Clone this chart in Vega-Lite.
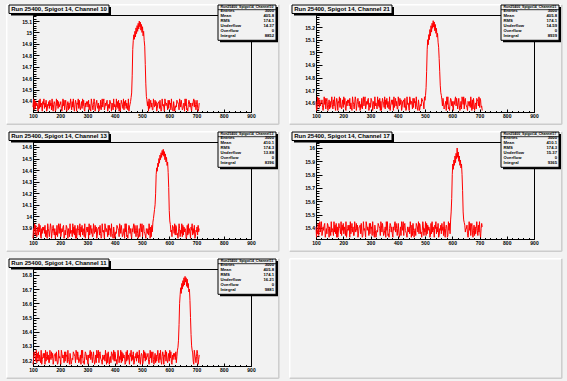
{
"$schema":"https://vega.github.io/schema/vega-lite/v6.json",
"background":"#f2f2f2",
"padding":0,
"autosize":{"type":"pad"},
"bounds":"flush",
"columns":2,
"spacing":{"row":30,"column":65},
"config":{
 "view":{"stroke":"#000000","strokeWidth":1},
 "axis":{"grid":false,"title":null,"domainColor":"#000000","tickColor":"#000000","labelColor":"#000000","labelFont":"Liberation Sans","labelFontWeight":"bold","labelFontSize":5,"labelFlush":false,"labelOverlap":false,"domainWidth":1,"tickWidth":1,"zindex":1},
 "text":{"font":"Liberation Sans","color":"#000000"}
},
"datasets":{
"c10":[{"x":100,"y":14.346},{"x":102,"y":14.418},{"x":104,"y":14.322},{"x":106,"y":14.406},{"x":108,"y":14.334},{"x":110,"y":14.394},{"x":112,"y":14.358},{"x":114,"y":14.382},{"x":116,"y":14.37},{"x":118,"y":14.31},
{"x":120,"y":14.322},{"x":122,"y":14.406},{"x":124,"y":14.334},{"x":126,"y":14.418},{"x":128,"y":14.346},{"x":130,"y":14.382},{"x":132,"y":14.358},{"x":134,"y":14.31},{"x":136,"y":14.394},{"x":138,"y":14.37},
{"x":140,"y":14.418},{"x":142,"y":14.334},{"x":144,"y":14.382},{"x":146,"y":14.346},{"x":148,"y":14.406},{"x":150,"y":14.31},{"x":152,"y":14.322},{"x":154,"y":14.37},{"x":156,"y":14.358},{"x":158,"y":14.394},
{"x":160,"y":14.334},{"x":162,"y":14.406},{"x":164,"y":14.358},{"x":166,"y":14.382},{"x":168,"y":14.322},{"x":170,"y":14.418},{"x":172,"y":14.346},{"x":174,"y":14.31},{"x":176,"y":14.37},{"x":178,"y":14.394},
{"x":180,"y":14.382},{"x":182,"y":14.31},{"x":184,"y":14.322},{"x":186,"y":14.418},{"x":188,"y":14.358},{"x":190,"y":14.406},{"x":192,"y":14.334},{"x":194,"y":14.394},{"x":196,"y":14.346},{"x":198,"y":14.37},
{"x":200,"y":14.37},{"x":202,"y":14.394},{"x":204,"y":14.334},{"x":206,"y":14.31},{"x":208,"y":14.346},{"x":210,"y":14.418},{"x":212,"y":14.358},{"x":214,"y":14.406},{"x":216,"y":14.322},{"x":218,"y":14.382},
{"x":220,"y":14.406},{"x":222,"y":14.346},{"x":224,"y":14.31},{"x":226,"y":14.358},{"x":228,"y":14.394},{"x":230,"y":14.322},{"x":232,"y":14.382},{"x":234,"y":14.334},{"x":236,"y":14.37},{"x":238,"y":14.418},
{"x":240,"y":14.358},{"x":242,"y":14.322},{"x":244,"y":14.394},{"x":246,"y":14.346},{"x":248,"y":14.418},{"x":250,"y":14.334},{"x":252,"y":14.31},{"x":254,"y":14.37},{"x":256,"y":14.406},{"x":258,"y":14.382},
{"x":260,"y":14.31},{"x":262,"y":14.382},{"x":264,"y":14.37},{"x":266,"y":14.418},{"x":268,"y":14.334},{"x":270,"y":14.406},{"x":272,"y":14.346},{"x":274,"y":14.322},{"x":276,"y":14.358},{"x":278,"y":14.394},
{"x":280,"y":14.334},{"x":282,"y":14.418},{"x":284,"y":14.358},{"x":286,"y":14.406},{"x":288,"y":14.322},{"x":290,"y":14.31},{"x":292,"y":14.382},{"x":294,"y":14.346},{"x":296,"y":14.394},{"x":298,"y":14.37},
{"x":300,"y":14.394},{"x":302,"y":14.346},{"x":304,"y":14.406},{"x":306,"y":14.322},{"x":308,"y":14.37},{"x":310,"y":14.334},{"x":312,"y":14.31},{"x":314,"y":14.418},{"x":316,"y":14.382},{"x":318,"y":14.358},
{"x":320,"y":14.322},{"x":322,"y":14.37},{"x":324,"y":14.418},{"x":326,"y":14.394},{"x":328,"y":14.31},{"x":330,"y":14.346},{"x":332,"y":14.382},{"x":334,"y":14.406},{"x":336,"y":14.358},{"x":338,"y":14.334},
{"x":340,"y":14.382},{"x":342,"y":14.31},{"x":344,"y":14.358},{"x":346,"y":14.334},{"x":348,"y":14.406},{"x":350,"y":14.322},{"x":352,"y":14.37},{"x":354,"y":14.418},{"x":356,"y":14.346},{"x":358,"y":14.394},
{"x":360,"y":14.418},{"x":362,"y":14.322},{"x":364,"y":14.346},{"x":366,"y":14.382},{"x":368,"y":14.358},{"x":370,"y":14.394},{"x":372,"y":14.406},{"x":374,"y":14.31},{"x":376,"y":14.334},{"x":378,"y":14.37},
{"x":380,"y":14.334},{"x":382,"y":14.406},{"x":384,"y":14.394},{"x":386,"y":14.37},{"x":388,"y":14.31},{"x":390,"y":14.382},{"x":392,"y":14.358},{"x":394,"y":14.322},{"x":396,"y":14.418},{"x":398,"y":14.346},
{"x":400,"y":14.37},{"x":402,"y":14.358},{"x":404,"y":14.322},{"x":406,"y":14.418},{"x":408,"y":14.346},{"x":410,"y":14.394},{"x":412,"y":14.334},{"x":414,"y":14.406},{"x":416,"y":14.31},{"x":418,"y":14.382},
{"x":420,"y":14.31},{"x":422,"y":14.346},{"x":424,"y":14.406},{"x":426,"y":14.382},{"x":428,"y":14.37},{"x":430,"y":14.334},{"x":432,"y":14.418},{"x":434,"y":14.322},{"x":436,"y":14.394},{"x":438,"y":14.358},
{"x":440,"y":14.406},{"x":442,"y":14.334},{"x":444,"y":14.382},{"x":446,"y":14.358},{"x":448,"y":14.322},{"x":450,"y":14.418},{"x":452,"y":14.31},{"x":454,"y":14.346},{"x":456,"y":14.37},{"x":458,"y":14.394},
{"x":460,"y":14.43},{"x":462,"y":14.47},{"x":464,"y":14.62},{"x":466,"y":14.85},{"x":468,"y":14.93},{"x":470,"y":14.98},{"x":472,"y":14.94},{"x":474,"y":15.01},{"x":476,"y":14.96},{"x":478,"y":15.04},
{"x":480,"y":14.99},{"x":482,"y":15.06},{"x":484,"y":15.01},{"x":486,"y":15.08},{"x":488,"y":15.03},{"x":490,"y":15.1},{"x":492,"y":15.05},{"x":494,"y":15.09},{"x":496,"y":15.02},{"x":498,"y":15.07},
{"x":500,"y":15.0},{"x":502,"y":15.05},{"x":504,"y":14.97},{"x":506,"y":15.01},{"x":508,"y":14.93},{"x":510,"y":14.88},{"x":512,"y":14.72},{"x":514,"y":14.55},{"x":516,"y":14.44},{"x":518,"y":14.41},
{"x":520,"y":14.358},{"x":522,"y":14.394},{"x":524,"y":14.31},{"x":526,"y":14.418},{"x":528,"y":14.334},{"x":530,"y":14.37},{"x":532,"y":14.406},{"x":534,"y":14.346},{"x":536,"y":14.382},{"x":538,"y":14.322},
{"x":540,"y":14.322},{"x":542,"y":14.418},{"x":544,"y":14.37},{"x":546,"y":14.346},{"x":548,"y":14.406},{"x":550,"y":14.358},{"x":552,"y":14.394},{"x":554,"y":14.31},{"x":556,"y":14.334},{"x":558,"y":14.382},
{"x":560,"y":14.382},{"x":562,"y":14.394},{"x":564,"y":14.334},{"x":566,"y":14.406},{"x":568,"y":14.346},{"x":570,"y":14.31},{"x":572,"y":14.322},{"x":574,"y":14.418},{"x":576,"y":14.358},{"x":578,"y":14.37},
{"x":580,"y":14.346},{"x":582,"y":14.31},{"x":584,"y":14.418},{"x":586,"y":14.394},{"x":588,"y":14.358},{"x":590,"y":14.382},{"x":592,"y":14.37},{"x":594,"y":14.322},{"x":596,"y":14.406},{"x":598,"y":14.334},
{"x":600,"y":14.406},{"x":602,"y":14.37},{"x":604,"y":14.382},{"x":606,"y":14.322},{"x":608,"y":14.418},{"x":610,"y":14.346},{"x":612,"y":14.334},{"x":614,"y":14.31},{"x":616,"y":14.394},{"x":618,"y":14.358},
{"x":620,"y":14.31},{"x":622,"y":14.334},{"x":624,"y":14.358},{"x":626,"y":14.346},{"x":628,"y":14.406},{"x":630,"y":14.394},{"x":632,"y":14.382},{"x":634,"y":14.37},{"x":636,"y":14.322},{"x":638,"y":14.418},
{"x":640,"y":14.394},{"x":642,"y":14.346},{"x":644,"y":14.406},{"x":646,"y":14.37},{"x":648,"y":14.322},{"x":650,"y":14.334},{"x":652,"y":14.358},{"x":654,"y":14.382},{"x":656,"y":14.31},{"x":658,"y":14.418},
{"x":660,"y":14.358},{"x":662,"y":14.418},{"x":664,"y":14.322},{"x":666,"y":14.334},{"x":668,"y":14.31},{"x":670,"y":14.37},{"x":672,"y":14.406},{"x":674,"y":14.394},{"x":676,"y":14.346},{"x":678,"y":14.382},
{"x":680,"y":14.334},{"x":682,"y":14.31},{"x":684,"y":14.382},{"x":686,"y":14.358},{"x":688,"y":14.394},{"x":690,"y":14.418},{"x":692,"y":14.346},{"x":694,"y":14.406},{"x":696,"y":14.37},{"x":698,"y":14.322},
{"x":700,"y":14.37},{"x":702,"y":14.406},{"x":704,"y":14.346},{"x":706,"y":14.31},{"x":708,"y":14.334},{"x":710,"y":14.382}],
"c21":[{"x":100,"y":14.612},{"x":102,"y":14.54},{"x":104,"y":14.552},{"x":106,"y":14.648},{"x":108,"y":14.588},{"x":110,"y":14.636},{"x":112,"y":14.564},{"x":114,"y":14.624},{"x":116,"y":14.576},{"x":118,"y":14.6},
{"x":120,"y":14.6},{"x":122,"y":14.624},{"x":124,"y":14.564},{"x":126,"y":14.54},{"x":128,"y":14.576},{"x":130,"y":14.648},{"x":132,"y":14.588},{"x":134,"y":14.636},{"x":136,"y":14.552},{"x":138,"y":14.612},
{"x":140,"y":14.636},{"x":142,"y":14.576},{"x":144,"y":14.54},{"x":146,"y":14.588},{"x":148,"y":14.624},{"x":150,"y":14.552},{"x":152,"y":14.612},{"x":154,"y":14.564},{"x":156,"y":14.6},{"x":158,"y":14.648},
{"x":160,"y":14.588},{"x":162,"y":14.552},{"x":164,"y":14.624},{"x":166,"y":14.576},{"x":168,"y":14.648},{"x":170,"y":14.564},{"x":172,"y":14.54},{"x":174,"y":14.6},{"x":176,"y":14.636},{"x":178,"y":14.612},
{"x":180,"y":14.54},{"x":182,"y":14.612},{"x":184,"y":14.6},{"x":186,"y":14.648},{"x":188,"y":14.564},{"x":190,"y":14.636},{"x":192,"y":14.576},{"x":194,"y":14.552},{"x":196,"y":14.588},{"x":198,"y":14.624},
{"x":200,"y":14.564},{"x":202,"y":14.648},{"x":204,"y":14.588},{"x":206,"y":14.636},{"x":208,"y":14.552},{"x":210,"y":14.54},{"x":212,"y":14.612},{"x":214,"y":14.576},{"x":216,"y":14.624},{"x":218,"y":14.6},
{"x":220,"y":14.624},{"x":222,"y":14.576},{"x":224,"y":14.636},{"x":226,"y":14.552},{"x":228,"y":14.6},{"x":230,"y":14.564},{"x":232,"y":14.54},{"x":234,"y":14.648},{"x":236,"y":14.612},{"x":238,"y":14.588},
{"x":240,"y":14.552},{"x":242,"y":14.6},{"x":244,"y":14.648},{"x":246,"y":14.624},{"x":248,"y":14.54},{"x":250,"y":14.576},{"x":252,"y":14.612},{"x":254,"y":14.636},{"x":256,"y":14.588},{"x":258,"y":14.564},
{"x":260,"y":14.612},{"x":262,"y":14.54},{"x":264,"y":14.588},{"x":266,"y":14.564},{"x":268,"y":14.636},{"x":270,"y":14.552},{"x":272,"y":14.6},{"x":274,"y":14.648},{"x":276,"y":14.576},{"x":278,"y":14.624},
{"x":280,"y":14.648},{"x":282,"y":14.552},{"x":284,"y":14.576},{"x":286,"y":14.612},{"x":288,"y":14.588},{"x":290,"y":14.624},{"x":292,"y":14.636},{"x":294,"y":14.54},{"x":296,"y":14.564},{"x":298,"y":14.6},
{"x":300,"y":14.564},{"x":302,"y":14.636},{"x":304,"y":14.624},{"x":306,"y":14.6},{"x":308,"y":14.54},{"x":310,"y":14.612},{"x":312,"y":14.588},{"x":314,"y":14.552},{"x":316,"y":14.648},{"x":318,"y":14.576},
{"x":320,"y":14.6},{"x":322,"y":14.588},{"x":324,"y":14.552},{"x":326,"y":14.648},{"x":328,"y":14.576},{"x":330,"y":14.624},{"x":332,"y":14.564},{"x":334,"y":14.636},{"x":336,"y":14.54},{"x":338,"y":14.612},
{"x":340,"y":14.54},{"x":342,"y":14.576},{"x":344,"y":14.636},{"x":346,"y":14.612},{"x":348,"y":14.6},{"x":350,"y":14.564},{"x":352,"y":14.648},{"x":354,"y":14.552},{"x":356,"y":14.624},{"x":358,"y":14.588},
{"x":360,"y":14.636},{"x":362,"y":14.564},{"x":364,"y":14.612},{"x":366,"y":14.588},{"x":368,"y":14.552},{"x":370,"y":14.648},{"x":372,"y":14.54},{"x":374,"y":14.576},{"x":376,"y":14.6},{"x":378,"y":14.624},
{"x":380,"y":14.588},{"x":382,"y":14.624},{"x":384,"y":14.54},{"x":386,"y":14.648},{"x":388,"y":14.564},{"x":390,"y":14.6},{"x":392,"y":14.636},{"x":394,"y":14.576},{"x":396,"y":14.612},{"x":398,"y":14.552},
{"x":400,"y":14.552},{"x":402,"y":14.648},{"x":404,"y":14.6},{"x":406,"y":14.576},{"x":408,"y":14.636},{"x":410,"y":14.588},{"x":412,"y":14.624},{"x":414,"y":14.54},{"x":416,"y":14.564},{"x":418,"y":14.612},
{"x":420,"y":14.612},{"x":422,"y":14.624},{"x":424,"y":14.564},{"x":426,"y":14.636},{"x":428,"y":14.576},{"x":430,"y":14.54},{"x":432,"y":14.552},{"x":434,"y":14.648},{"x":436,"y":14.588},{"x":438,"y":14.6},
{"x":440,"y":14.576},{"x":442,"y":14.54},{"x":444,"y":14.648},{"x":446,"y":14.624},{"x":448,"y":14.588},{"x":450,"y":14.612},{"x":452,"y":14.6},{"x":454,"y":14.552},{"x":456,"y":14.636},{"x":458,"y":14.564},
{"x":460,"y":14.636},{"x":462,"y":14.6},{"x":464,"y":14.612},{"x":466,"y":14.552},{"x":468,"y":14.648},{"x":470,"y":14.576},{"x":472,"y":14.564},{"x":474,"y":14.54},{"x":476,"y":14.624},{"x":478,"y":14.588},
{"x":480,"y":14.54},{"x":482,"y":14.564},{"x":484,"y":14.588},{"x":486,"y":14.576},{"x":488,"y":14.636},{"x":490,"y":14.624},{"x":492,"y":14.612},{"x":494,"y":14.6},{"x":496,"y":14.552},{"x":498,"y":14.648},
{"x":500,"y":14.62},{"x":502,"y":14.66},{"x":504,"y":14.72},{"x":506,"y":14.85},{"x":508,"y":15.02},{"x":510,"y":15.1},{"x":512,"y":15.06},{"x":514,"y":15.14},{"x":516,"y":15.1},{"x":518,"y":15.18},
{"x":520,"y":15.13},{"x":522,"y":15.21},{"x":524,"y":15.16},{"x":526,"y":15.23},{"x":528,"y":15.19},{"x":530,"y":15.25},{"x":532,"y":15.2},{"x":534,"y":15.24},{"x":536,"y":15.17},{"x":538,"y":15.22},
{"x":540,"y":15.15},{"x":542,"y":15.19},{"x":544,"y":15.12},{"x":546,"y":15.15},{"x":548,"y":15.08},{"x":550,"y":15.04},{"x":552,"y":14.95},{"x":554,"y":14.85},{"x":556,"y":14.74},{"x":558,"y":14.68},
{"x":560,"y":14.66},{"x":562,"y":14.624},{"x":564,"y":14.576},{"x":566,"y":14.636},{"x":568,"y":14.6},{"x":570,"y":14.552},{"x":572,"y":14.564},{"x":574,"y":14.588},{"x":576,"y":14.612},{"x":578,"y":14.54},
{"x":580,"y":14.648},{"x":582,"y":14.588},{"x":584,"y":14.648},{"x":586,"y":14.552},{"x":588,"y":14.564},{"x":590,"y":14.54},{"x":592,"y":14.6},{"x":594,"y":14.636},{"x":596,"y":14.624},{"x":598,"y":14.576},
{"x":600,"y":14.612},{"x":602,"y":14.564},{"x":604,"y":14.54},{"x":606,"y":14.612},{"x":608,"y":14.588},{"x":610,"y":14.624},{"x":612,"y":14.648},{"x":614,"y":14.576},{"x":616,"y":14.636},{"x":618,"y":14.6},
{"x":620,"y":14.552},{"x":622,"y":14.6},{"x":624,"y":14.636},{"x":626,"y":14.576},{"x":628,"y":14.54},{"x":630,"y":14.564},{"x":632,"y":14.612},{"x":634,"y":14.552},{"x":636,"y":14.648},{"x":638,"y":14.624},
{"x":640,"y":14.588},{"x":642,"y":14.648},{"x":644,"y":14.552},{"x":646,"y":14.624},{"x":648,"y":14.636},{"x":650,"y":14.588},{"x":652,"y":14.576},{"x":654,"y":14.564},{"x":656,"y":14.54},{"x":658,"y":14.612},
{"x":660,"y":14.6},{"x":662,"y":14.576},{"x":664,"y":14.612},{"x":666,"y":14.564},{"x":668,"y":14.648},{"x":670,"y":14.6},{"x":672,"y":14.54},{"x":674,"y":14.624},{"x":676,"y":14.552},{"x":678,"y":14.636},
{"x":680,"y":14.588},{"x":682,"y":14.54},{"x":684,"y":14.588},{"x":686,"y":14.6},{"x":688,"y":14.552},{"x":690,"y":14.636},{"x":692,"y":14.624},{"x":694,"y":14.612},{"x":696,"y":14.576},{"x":698,"y":14.648},
{"x":700,"y":14.564},{"x":702,"y":14.636},{"x":704,"y":14.624},{"x":706,"y":14.564},{"x":708,"y":14.576},{"x":710,"y":14.54}],
"c13":[{"x":100,"y":13.81},{"x":102,"y":13.894},{"x":104,"y":13.88},{"x":106,"y":13.936},{"x":108,"y":13.838},{"x":110,"y":13.922},{"x":112,"y":13.852},{"x":114,"y":13.824},{"x":116,"y":13.866},{"x":118,"y":13.908},
{"x":120,"y":13.838},{"x":122,"y":13.936},{"x":124,"y":13.866},{"x":126,"y":13.922},{"x":128,"y":13.824},{"x":130,"y":13.81},{"x":132,"y":13.894},{"x":134,"y":13.852},{"x":136,"y":13.908},{"x":138,"y":13.88},
{"x":140,"y":13.908},{"x":142,"y":13.852},{"x":144,"y":13.922},{"x":146,"y":13.824},{"x":148,"y":13.88},{"x":150,"y":13.838},{"x":152,"y":13.81},{"x":154,"y":13.936},{"x":156,"y":13.894},{"x":158,"y":13.866},
{"x":160,"y":13.824},{"x":162,"y":13.88},{"x":164,"y":13.936},{"x":166,"y":13.908},{"x":168,"y":13.81},{"x":170,"y":13.852},{"x":172,"y":13.894},{"x":174,"y":13.922},{"x":176,"y":13.866},{"x":178,"y":13.838},
{"x":180,"y":13.894},{"x":182,"y":13.81},{"x":184,"y":13.866},{"x":186,"y":13.838},{"x":188,"y":13.922},{"x":190,"y":13.824},{"x":192,"y":13.88},{"x":194,"y":13.936},{"x":196,"y":13.852},{"x":198,"y":13.908},
{"x":200,"y":13.936},{"x":202,"y":13.824},{"x":204,"y":13.852},{"x":206,"y":13.894},{"x":208,"y":13.866},{"x":210,"y":13.908},{"x":212,"y":13.922},{"x":214,"y":13.81},{"x":216,"y":13.838},{"x":218,"y":13.88},
{"x":220,"y":13.838},{"x":222,"y":13.922},{"x":224,"y":13.908},{"x":226,"y":13.88},{"x":228,"y":13.81},{"x":230,"y":13.894},{"x":232,"y":13.866},{"x":234,"y":13.824},{"x":236,"y":13.936},{"x":238,"y":13.852},
{"x":240,"y":13.88},{"x":242,"y":13.866},{"x":244,"y":13.824},{"x":246,"y":13.936},{"x":248,"y":13.852},{"x":250,"y":13.908},{"x":252,"y":13.838},{"x":254,"y":13.922},{"x":256,"y":13.81},{"x":258,"y":13.894},
{"x":260,"y":13.81},{"x":262,"y":13.852},{"x":264,"y":13.922},{"x":266,"y":13.894},{"x":268,"y":13.88},{"x":270,"y":13.838},{"x":272,"y":13.936},{"x":274,"y":13.824},{"x":276,"y":13.908},{"x":278,"y":13.866},
{"x":280,"y":13.922},{"x":282,"y":13.838},{"x":284,"y":13.894},{"x":286,"y":13.866},{"x":288,"y":13.824},{"x":290,"y":13.936},{"x":292,"y":13.81},{"x":294,"y":13.852},{"x":296,"y":13.88},{"x":298,"y":13.908},
{"x":300,"y":13.866},{"x":302,"y":13.908},{"x":304,"y":13.81},{"x":306,"y":13.936},{"x":308,"y":13.838},{"x":310,"y":13.88},{"x":312,"y":13.922},{"x":314,"y":13.852},{"x":316,"y":13.894},{"x":318,"y":13.824},
{"x":320,"y":13.824},{"x":322,"y":13.936},{"x":324,"y":13.88},{"x":326,"y":13.852},{"x":328,"y":13.922},{"x":330,"y":13.866},{"x":332,"y":13.908},{"x":334,"y":13.81},{"x":336,"y":13.838},{"x":338,"y":13.894},
{"x":340,"y":13.894},{"x":342,"y":13.908},{"x":344,"y":13.838},{"x":346,"y":13.922},{"x":348,"y":13.852},{"x":350,"y":13.81},{"x":352,"y":13.824},{"x":354,"y":13.936},{"x":356,"y":13.866},{"x":358,"y":13.88},
{"x":360,"y":13.852},{"x":362,"y":13.81},{"x":364,"y":13.936},{"x":366,"y":13.908},{"x":368,"y":13.866},{"x":370,"y":13.894},{"x":372,"y":13.88},{"x":374,"y":13.824},{"x":376,"y":13.922},{"x":378,"y":13.838},
{"x":380,"y":13.922},{"x":382,"y":13.88},{"x":384,"y":13.894},{"x":386,"y":13.824},{"x":388,"y":13.936},{"x":390,"y":13.852},{"x":392,"y":13.838},{"x":394,"y":13.81},{"x":396,"y":13.908},{"x":398,"y":13.866},
{"x":400,"y":13.81},{"x":402,"y":13.838},{"x":404,"y":13.866},{"x":406,"y":13.852},{"x":408,"y":13.922},{"x":410,"y":13.908},{"x":412,"y":13.894},{"x":414,"y":13.88},{"x":416,"y":13.824},{"x":418,"y":13.936},
{"x":420,"y":13.908},{"x":422,"y":13.852},{"x":424,"y":13.922},{"x":426,"y":13.88},{"x":428,"y":13.824},{"x":430,"y":13.838},{"x":432,"y":13.866},{"x":434,"y":13.894},{"x":436,"y":13.81},{"x":438,"y":13.936},
{"x":440,"y":13.866},{"x":442,"y":13.936},{"x":444,"y":13.824},{"x":446,"y":13.838},{"x":448,"y":13.81},{"x":450,"y":13.88},{"x":452,"y":13.922},{"x":454,"y":13.908},{"x":456,"y":13.852},{"x":458,"y":13.894},
{"x":460,"y":13.838},{"x":462,"y":13.81},{"x":464,"y":13.894},{"x":466,"y":13.866},{"x":468,"y":13.908},{"x":470,"y":13.936},{"x":472,"y":13.852},{"x":474,"y":13.922},{"x":476,"y":13.88},{"x":478,"y":13.824},
{"x":480,"y":13.88},{"x":482,"y":13.922},{"x":484,"y":13.852},{"x":486,"y":13.81},{"x":488,"y":13.838},{"x":490,"y":13.894},{"x":492,"y":13.824},{"x":494,"y":13.936},{"x":496,"y":13.908},{"x":498,"y":13.866},
{"x":500,"y":13.936},{"x":502,"y":13.824},{"x":504,"y":13.908},{"x":506,"y":13.922},{"x":508,"y":13.866},{"x":510,"y":13.852},{"x":512,"y":13.838},{"x":514,"y":13.81},{"x":516,"y":13.894},{"x":518,"y":13.88},
{"x":520,"y":13.852},{"x":522,"y":13.894},{"x":524,"y":13.838},{"x":526,"y":13.936},{"x":528,"y":13.88},{"x":530,"y":13.81},{"x":532,"y":13.908},{"x":534,"y":13.824},{"x":536,"y":13.922},{"x":538,"y":13.866},
{"x":540,"y":13.95},{"x":542,"y":13.98},{"x":544,"y":14.02},{"x":546,"y":14.06},{"x":548,"y":14.1},{"x":550,"y":14.2},{"x":552,"y":14.36},{"x":554,"y":14.42},{"x":556,"y":14.39},{"x":558,"y":14.46},
{"x":560,"y":14.43},{"x":562,"y":14.5},{"x":564,"y":14.46},{"x":566,"y":14.53},{"x":568,"y":14.49},{"x":570,"y":14.55},{"x":572,"y":14.51},{"x":574,"y":14.57},{"x":576,"y":14.53},{"x":578,"y":14.58},
{"x":580,"y":14.52},{"x":582,"y":14.56},{"x":584,"y":14.49},{"x":586,"y":14.54},{"x":588,"y":14.47},{"x":590,"y":14.51},{"x":592,"y":14.44},{"x":594,"y":14.47},{"x":596,"y":14.38},{"x":598,"y":14.25},
{"x":600,"y":14.05},{"x":602,"y":13.96},{"x":604,"y":13.93},{"x":606,"y":13.866},{"x":608,"y":13.88},{"x":610,"y":13.824},{"x":612,"y":13.922},{"x":614,"y":13.908},{"x":616,"y":13.894},{"x":618,"y":13.852},
{"x":620,"y":13.936},{"x":622,"y":13.838},{"x":624,"y":13.922},{"x":626,"y":13.908},{"x":628,"y":13.838},{"x":630,"y":13.852},{"x":632,"y":13.81},{"x":634,"y":13.866},{"x":636,"y":13.936},{"x":638,"y":13.894},
{"x":640,"y":13.824},{"x":642,"y":13.88},{"x":644,"y":13.852},{"x":646,"y":13.936},{"x":648,"y":13.824},{"x":650,"y":13.922},{"x":652,"y":13.838},{"x":654,"y":13.908},{"x":656,"y":13.866},{"x":658,"y":13.894},
{"x":660,"y":13.88},{"x":662,"y":13.81},{"x":664,"y":13.824},{"x":666,"y":13.922},{"x":668,"y":13.838},{"x":670,"y":13.936},{"x":672,"y":13.852},{"x":674,"y":13.894},{"x":676,"y":13.866},{"x":678,"y":13.81},
{"x":680,"y":13.908},{"x":682,"y":13.88},{"x":684,"y":13.936},{"x":686,"y":13.838},{"x":688,"y":13.894},{"x":690,"y":13.852},{"x":692,"y":13.922},{"x":694,"y":13.81},{"x":696,"y":13.824},{"x":698,"y":13.88},
{"x":700,"y":13.866},{"x":702,"y":13.908},{"x":704,"y":13.838},{"x":706,"y":13.922},{"x":708,"y":13.866},{"x":710,"y":13.894}],
"c17":[{"x":100,"y":15.408},{"x":102,"y":15.33},{"x":104,"y":15.382},{"x":106,"y":15.356},{"x":108,"y":15.434},{"x":110,"y":15.343},{"x":112,"y":15.395},{"x":114,"y":15.447},{"x":116,"y":15.369},{"x":118,"y":15.421},
{"x":120,"y":15.447},{"x":122,"y":15.343},{"x":124,"y":15.369},{"x":126,"y":15.408},{"x":128,"y":15.382},{"x":130,"y":15.421},{"x":132,"y":15.434},{"x":134,"y":15.33},{"x":136,"y":15.356},{"x":138,"y":15.395},
{"x":140,"y":15.356},{"x":142,"y":15.434},{"x":144,"y":15.421},{"x":146,"y":15.395},{"x":148,"y":15.33},{"x":150,"y":15.408},{"x":152,"y":15.382},{"x":154,"y":15.343},{"x":156,"y":15.447},{"x":158,"y":15.369},
{"x":160,"y":15.395},{"x":162,"y":15.382},{"x":164,"y":15.343},{"x":166,"y":15.447},{"x":168,"y":15.369},{"x":170,"y":15.421},{"x":172,"y":15.356},{"x":174,"y":15.434},{"x":176,"y":15.33},{"x":178,"y":15.408},
{"x":180,"y":15.33},{"x":182,"y":15.369},{"x":184,"y":15.434},{"x":186,"y":15.408},{"x":188,"y":15.395},{"x":190,"y":15.356},{"x":192,"y":15.447},{"x":194,"y":15.343},{"x":196,"y":15.421},{"x":198,"y":15.382},
{"x":200,"y":15.434},{"x":202,"y":15.356},{"x":204,"y":15.408},{"x":206,"y":15.382},{"x":208,"y":15.343},{"x":210,"y":15.447},{"x":212,"y":15.33},{"x":214,"y":15.369},{"x":216,"y":15.395},{"x":218,"y":15.421},
{"x":220,"y":15.382},{"x":222,"y":15.421},{"x":224,"y":15.33},{"x":226,"y":15.447},{"x":228,"y":15.356},{"x":230,"y":15.395},{"x":232,"y":15.434},{"x":234,"y":15.369},{"x":236,"y":15.408},{"x":238,"y":15.343},
{"x":240,"y":15.343},{"x":242,"y":15.447},{"x":244,"y":15.395},{"x":246,"y":15.369},{"x":248,"y":15.434},{"x":250,"y":15.382},{"x":252,"y":15.421},{"x":254,"y":15.33},{"x":256,"y":15.356},{"x":258,"y":15.408},
{"x":260,"y":15.408},{"x":262,"y":15.421},{"x":264,"y":15.356},{"x":266,"y":15.434},{"x":268,"y":15.369},{"x":270,"y":15.33},{"x":272,"y":15.343},{"x":274,"y":15.447},{"x":276,"y":15.382},{"x":278,"y":15.395},
{"x":280,"y":15.369},{"x":282,"y":15.33},{"x":284,"y":15.447},{"x":286,"y":15.421},{"x":288,"y":15.382},{"x":290,"y":15.408},{"x":292,"y":15.395},{"x":294,"y":15.343},{"x":296,"y":15.434},{"x":298,"y":15.356},
{"x":300,"y":15.434},{"x":302,"y":15.395},{"x":304,"y":15.408},{"x":306,"y":15.343},{"x":308,"y":15.447},{"x":310,"y":15.369},{"x":312,"y":15.356},{"x":314,"y":15.33},{"x":316,"y":15.421},{"x":318,"y":15.382},
{"x":320,"y":15.33},{"x":322,"y":15.356},{"x":324,"y":15.382},{"x":326,"y":15.369},{"x":328,"y":15.434},{"x":330,"y":15.421},{"x":332,"y":15.408},{"x":334,"y":15.395},{"x":336,"y":15.343},{"x":338,"y":15.447},
{"x":340,"y":15.421},{"x":342,"y":15.369},{"x":344,"y":15.434},{"x":346,"y":15.395},{"x":348,"y":15.343},{"x":350,"y":15.356},{"x":352,"y":15.382},{"x":354,"y":15.408},{"x":356,"y":15.33},{"x":358,"y":15.447},
{"x":360,"y":15.382},{"x":362,"y":15.447},{"x":364,"y":15.343},{"x":366,"y":15.356},{"x":368,"y":15.33},{"x":370,"y":15.395},{"x":372,"y":15.434},{"x":374,"y":15.421},{"x":376,"y":15.369},{"x":378,"y":15.408},
{"x":380,"y":15.356},{"x":382,"y":15.33},{"x":384,"y":15.408},{"x":386,"y":15.382},{"x":388,"y":15.421},{"x":390,"y":15.447},{"x":392,"y":15.369},{"x":394,"y":15.434},{"x":396,"y":15.395},{"x":398,"y":15.343},
{"x":400,"y":15.395},{"x":402,"y":15.434},{"x":404,"y":15.369},{"x":406,"y":15.33},{"x":408,"y":15.356},{"x":410,"y":15.408},{"x":412,"y":15.343},{"x":414,"y":15.447},{"x":416,"y":15.421},{"x":418,"y":15.382},
{"x":420,"y":15.447},{"x":422,"y":15.343},{"x":424,"y":15.421},{"x":426,"y":15.434},{"x":428,"y":15.382},{"x":430,"y":15.369},{"x":432,"y":15.356},{"x":434,"y":15.33},{"x":436,"y":15.408},{"x":438,"y":15.395},
{"x":440,"y":15.369},{"x":442,"y":15.408},{"x":444,"y":15.356},{"x":446,"y":15.447},{"x":448,"y":15.395},{"x":450,"y":15.33},{"x":452,"y":15.421},{"x":454,"y":15.343},{"x":456,"y":15.434},{"x":458,"y":15.382},
{"x":460,"y":15.33},{"x":462,"y":15.382},{"x":464,"y":15.395},{"x":466,"y":15.343},{"x":468,"y":15.434},{"x":470,"y":15.421},{"x":472,"y":15.408},{"x":474,"y":15.369},{"x":476,"y":15.447},{"x":478,"y":15.356},
{"x":480,"y":15.434},{"x":482,"y":15.421},{"x":484,"y":15.356},{"x":486,"y":15.369},{"x":488,"y":15.33},{"x":490,"y":15.382},{"x":492,"y":15.447},{"x":494,"y":15.408},{"x":496,"y":15.343},{"x":498,"y":15.395},
{"x":500,"y":15.369},{"x":502,"y":15.447},{"x":504,"y":15.343},{"x":506,"y":15.434},{"x":508,"y":15.356},{"x":510,"y":15.421},{"x":512,"y":15.382},{"x":514,"y":15.408},{"x":516,"y":15.395},{"x":518,"y":15.33},
{"x":520,"y":15.343},{"x":522,"y":15.434},{"x":524,"y":15.356},{"x":526,"y":15.447},{"x":528,"y":15.369},{"x":530,"y":15.408},{"x":532,"y":15.382},{"x":534,"y":15.33},{"x":536,"y":15.421},{"x":538,"y":15.395},
{"x":540,"y":15.447},{"x":542,"y":15.356},{"x":544,"y":15.408},{"x":546,"y":15.369},{"x":548,"y":15.434},{"x":550,"y":15.33},{"x":552,"y":15.343},{"x":554,"y":15.395},{"x":556,"y":15.382},{"x":558,"y":15.421},
{"x":560,"y":15.356},{"x":562,"y":15.434},{"x":564,"y":15.382},{"x":566,"y":15.408},{"x":568,"y":15.343},{"x":570,"y":15.447},{"x":572,"y":15.369},{"x":574,"y":15.33},{"x":576,"y":15.395},{"x":578,"y":15.421},
{"x":580,"y":15.408},{"x":582,"y":15.33},{"x":584,"y":15.343},{"x":586,"y":15.447},{"x":588,"y":15.382},{"x":590,"y":15.434},{"x":592,"y":15.356},{"x":594,"y":15.46},{"x":596,"y":15.52},{"x":598,"y":15.62},
{"x":600,"y":15.8},{"x":602,"y":15.88},{"x":604,"y":15.84},{"x":606,"y":15.91},{"x":608,"y":15.87},{"x":610,"y":15.94},{"x":612,"y":15.89},{"x":614,"y":15.96},{"x":616,"y":15.92},{"x":618,"y":16.0},
{"x":620,"y":15.93},{"x":622,"y":15.97},{"x":624,"y":15.9},{"x":626,"y":15.94},{"x":628,"y":15.87},{"x":630,"y":15.91},{"x":632,"y":15.85},{"x":634,"y":15.88},{"x":636,"y":15.8},{"x":638,"y":15.68},
{"x":640,"y":15.52},{"x":642,"y":15.46},{"x":644,"y":15.44},{"x":646,"y":15.421},{"x":648,"y":15.369},{"x":650,"y":15.395},{"x":652,"y":15.395},{"x":654,"y":15.421},{"x":656,"y":15.356},{"x":658,"y":15.33},
{"x":660,"y":15.369},{"x":662,"y":15.447},{"x":664,"y":15.382},{"x":666,"y":15.434},{"x":668,"y":15.343},{"x":670,"y":15.408},{"x":672,"y":15.434},{"x":674,"y":15.369},{"x":676,"y":15.33},{"x":678,"y":15.382},
{"x":680,"y":15.421},{"x":682,"y":15.343},{"x":684,"y":15.408},{"x":686,"y":15.356},{"x":688,"y":15.395},{"x":690,"y":15.447},{"x":692,"y":15.382},{"x":694,"y":15.343},{"x":696,"y":15.421},{"x":698,"y":15.369},
{"x":700,"y":15.447},{"x":702,"y":15.356},{"x":704,"y":15.33},{"x":706,"y":15.395},{"x":708,"y":15.434},{"x":710,"y":15.408}],
"c11":[{"x":100,"y":16.17},{"x":102,"y":16.203},{"x":104,"y":16.258},{"x":106,"y":16.236},{"x":108,"y":16.225},{"x":110,"y":16.192},{"x":112,"y":16.269},{"x":114,"y":16.181},{"x":116,"y":16.247},{"x":118,"y":16.214},
{"x":120,"y":16.258},{"x":122,"y":16.192},{"x":124,"y":16.236},{"x":126,"y":16.214},{"x":128,"y":16.181},{"x":130,"y":16.269},{"x":132,"y":16.17},{"x":134,"y":16.203},{"x":136,"y":16.225},{"x":138,"y":16.247},
{"x":140,"y":16.214},{"x":142,"y":16.247},{"x":144,"y":16.17},{"x":146,"y":16.269},{"x":148,"y":16.192},{"x":150,"y":16.225},{"x":152,"y":16.258},{"x":154,"y":16.203},{"x":156,"y":16.236},{"x":158,"y":16.181},
{"x":160,"y":16.181},{"x":162,"y":16.269},{"x":164,"y":16.225},{"x":166,"y":16.203},{"x":168,"y":16.258},{"x":170,"y":16.214},{"x":172,"y":16.247},{"x":174,"y":16.17},{"x":176,"y":16.192},{"x":178,"y":16.236},
{"x":180,"y":16.236},{"x":182,"y":16.247},{"x":184,"y":16.192},{"x":186,"y":16.258},{"x":188,"y":16.203},{"x":190,"y":16.17},{"x":192,"y":16.181},{"x":194,"y":16.269},{"x":196,"y":16.214},{"x":198,"y":16.225},
{"x":200,"y":16.203},{"x":202,"y":16.17},{"x":204,"y":16.269},{"x":206,"y":16.247},{"x":208,"y":16.214},{"x":210,"y":16.236},{"x":212,"y":16.225},{"x":214,"y":16.181},{"x":216,"y":16.258},{"x":218,"y":16.192},
{"x":220,"y":16.258},{"x":222,"y":16.225},{"x":224,"y":16.236},{"x":226,"y":16.181},{"x":228,"y":16.269},{"x":230,"y":16.203},{"x":232,"y":16.192},{"x":234,"y":16.17},{"x":236,"y":16.247},{"x":238,"y":16.214},
{"x":240,"y":16.17},{"x":242,"y":16.192},{"x":244,"y":16.214},{"x":246,"y":16.203},{"x":248,"y":16.258},{"x":250,"y":16.247},{"x":252,"y":16.236},{"x":254,"y":16.225},{"x":256,"y":16.181},{"x":258,"y":16.269},
{"x":260,"y":16.247},{"x":262,"y":16.203},{"x":264,"y":16.258},{"x":266,"y":16.225},{"x":268,"y":16.181},{"x":270,"y":16.192},{"x":272,"y":16.214},{"x":274,"y":16.236},{"x":276,"y":16.17},{"x":278,"y":16.269},
{"x":280,"y":16.214},{"x":282,"y":16.269},{"x":284,"y":16.181},{"x":286,"y":16.192},{"x":288,"y":16.17},{"x":290,"y":16.225},{"x":292,"y":16.258},{"x":294,"y":16.247},{"x":296,"y":16.203},{"x":298,"y":16.236},
{"x":300,"y":16.192},{"x":302,"y":16.17},{"x":304,"y":16.236},{"x":306,"y":16.214},{"x":308,"y":16.247},{"x":310,"y":16.269},{"x":312,"y":16.203},{"x":314,"y":16.258},{"x":316,"y":16.225},{"x":318,"y":16.181},
{"x":320,"y":16.225},{"x":322,"y":16.258},{"x":324,"y":16.203},{"x":326,"y":16.17},{"x":328,"y":16.192},{"x":330,"y":16.236},{"x":332,"y":16.181},{"x":334,"y":16.269},{"x":336,"y":16.247},{"x":338,"y":16.214},
{"x":340,"y":16.269},{"x":342,"y":16.181},{"x":344,"y":16.247},{"x":346,"y":16.258},{"x":348,"y":16.214},{"x":350,"y":16.203},{"x":352,"y":16.192},{"x":354,"y":16.17},{"x":356,"y":16.236},{"x":358,"y":16.225},
{"x":360,"y":16.203},{"x":362,"y":16.236},{"x":364,"y":16.192},{"x":366,"y":16.269},{"x":368,"y":16.225},{"x":370,"y":16.17},{"x":372,"y":16.247},{"x":374,"y":16.181},{"x":376,"y":16.258},{"x":378,"y":16.214},
{"x":380,"y":16.17},{"x":382,"y":16.214},{"x":384,"y":16.225},{"x":386,"y":16.181},{"x":388,"y":16.258},{"x":390,"y":16.247},{"x":392,"y":16.236},{"x":394,"y":16.203},{"x":396,"y":16.269},{"x":398,"y":16.192},
{"x":400,"y":16.258},{"x":402,"y":16.247},{"x":404,"y":16.192},{"x":406,"y":16.203},{"x":408,"y":16.17},{"x":410,"y":16.214},{"x":412,"y":16.269},{"x":414,"y":16.236},{"x":416,"y":16.181},{"x":418,"y":16.225},
{"x":420,"y":16.203},{"x":422,"y":16.269},{"x":424,"y":16.181},{"x":426,"y":16.258},{"x":428,"y":16.192},{"x":430,"y":16.247},{"x":432,"y":16.214},{"x":434,"y":16.236},{"x":436,"y":16.225},{"x":438,"y":16.17},
{"x":440,"y":16.181},{"x":442,"y":16.258},{"x":444,"y":16.192},{"x":446,"y":16.269},{"x":448,"y":16.203},{"x":450,"y":16.236},{"x":452,"y":16.214},{"x":454,"y":16.17},{"x":456,"y":16.247},{"x":458,"y":16.225},
{"x":460,"y":16.269},{"x":462,"y":16.192},{"x":464,"y":16.236},{"x":466,"y":16.203},{"x":468,"y":16.258},{"x":470,"y":16.17},{"x":472,"y":16.181},{"x":474,"y":16.225},{"x":476,"y":16.214},{"x":478,"y":16.247},
{"x":480,"y":16.192},{"x":482,"y":16.258},{"x":484,"y":16.214},{"x":486,"y":16.236},{"x":488,"y":16.181},{"x":490,"y":16.269},{"x":492,"y":16.203},{"x":494,"y":16.17},{"x":496,"y":16.225},{"x":498,"y":16.247},
{"x":500,"y":16.236},{"x":502,"y":16.17},{"x":504,"y":16.181},{"x":506,"y":16.269},{"x":508,"y":16.214},{"x":510,"y":16.258},{"x":512,"y":16.192},{"x":514,"y":16.247},{"x":516,"y":16.203},{"x":518,"y":16.225},
{"x":520,"y":16.225},{"x":522,"y":16.247},{"x":524,"y":16.192},{"x":526,"y":16.17},{"x":528,"y":16.203},{"x":530,"y":16.269},{"x":532,"y":16.214},{"x":534,"y":16.258},{"x":536,"y":16.181},{"x":538,"y":16.236},
{"x":540,"y":16.258},{"x":542,"y":16.203},{"x":544,"y":16.17},{"x":546,"y":16.214},{"x":548,"y":16.247},{"x":550,"y":16.181},{"x":552,"y":16.236},{"x":554,"y":16.192},{"x":556,"y":16.225},{"x":558,"y":16.269},
{"x":560,"y":16.214},{"x":562,"y":16.181},{"x":564,"y":16.247},{"x":566,"y":16.203},{"x":568,"y":16.269},{"x":570,"y":16.192},{"x":572,"y":16.17},{"x":574,"y":16.225},{"x":576,"y":16.258},{"x":578,"y":16.236},
{"x":580,"y":16.17},{"x":582,"y":16.236},{"x":584,"y":16.225},{"x":586,"y":16.269},{"x":588,"y":16.192},{"x":590,"y":16.258},{"x":592,"y":16.203},{"x":594,"y":16.181},{"x":596,"y":16.214},{"x":598,"y":16.247},
{"x":600,"y":16.192},{"x":602,"y":16.269},{"x":604,"y":16.214},{"x":606,"y":16.258},{"x":608,"y":16.181},{"x":610,"y":16.17},{"x":612,"y":16.236},{"x":614,"y":16.203},{"x":616,"y":16.247},{"x":618,"y":16.225},
{"x":620,"y":16.247},{"x":622,"y":16.203},{"x":624,"y":16.258},{"x":626,"y":16.181},{"x":628,"y":16.225},{"x":630,"y":16.27},{"x":632,"y":16.29},{"x":634,"y":16.34},{"x":636,"y":16.45},{"x":638,"y":16.6},
{"x":640,"y":16.66},{"x":642,"y":16.71},{"x":644,"y":16.67},{"x":646,"y":16.74},{"x":648,"y":16.7},{"x":650,"y":16.76},{"x":652,"y":16.72},{"x":654,"y":16.78},{"x":656,"y":16.73},{"x":658,"y":16.79},
{"x":660,"y":16.75},{"x":662,"y":16.78},{"x":664,"y":16.72},{"x":666,"y":16.77},{"x":668,"y":16.71},{"x":670,"y":16.74},{"x":672,"y":16.68},{"x":674,"y":16.7},{"x":676,"y":16.62},{"x":678,"y":16.5},
{"x":680,"y":16.38},{"x":682,"y":16.3},{"x":684,"y":16.27},{"x":686,"y":16.25},{"x":688,"y":16.192},{"x":690,"y":16.17},{"x":692,"y":16.269},{"x":694,"y":16.236},{"x":696,"y":16.214},{"x":698,"y":16.181},
{"x":700,"y":16.225},{"x":702,"y":16.269},{"x":704,"y":16.247},{"x":706,"y":16.17},{"x":708,"y":16.203},{"x":710,"y":16.236}]
},
"concat":[
{"width":218,"height":97,
 "layer":[
  {"data":{"name":"c10"},
   "layer":[
    {"mark":{"type":"line","color":"#ff0000","strokeWidth":1},
     "encoding":{
      "x":{"field":"x","type":"quantitative","scale":{"domain":[100,900],"nice":false,"zero":false},"axis":{"values":[100,200,300,400,500,600,700,800,900],"tickSize":-3,"labelPadding":4.5}},
      "y":{"field":"y","type":"quantitative","scale":{"domain":[14.303,15.153],"nice":false,"zero":false},"axis":{"values":[14.4,14.5,14.6,14.7,14.8,14.9,15,15.1],"format":"~g","tickSize":-6,"labelPadding":7.5}}}},
    {"mark":{"type":"line","opacity":0},
     "encoding":{
      "x":{"field":"x","type":"quantitative","scale":{"domain":[100,900],"nice":false,"zero":false},"axis":{"orient":"bottom","tickCount":40,"tickSize":-1.5,"labels":false,"domain":false}},
      "y":{"field":"y","type":"quantitative","scale":{"domain":[14.303,15.153],"nice":false,"zero":false},"axis":{"orient":"left","tickCount":40,"tickSize":-3,"labels":false,"domain":false}}}}
   ],
   "resolve":{"axis":{"x":"independent","y":"independent"}}},
  {"data":{"values":[{}]},
   "layer":[
    {"mark":{"type":"rect","fill":"transparent"},"encoding":{"x":{"datum":0,"type":"quantitative","scale":{"domain":[0.11307,0.88339],"nice":false,"zero":false},"axis":null},"x2":{"datum":1},"y":{"datum":0,"type":"quantitative","scale":{"domain":[0.12598,0.88976],"nice":false,"zero":false},"axis":null},"y2":{"datum":1}}},
    {"mark":{"type":"rule","color":"#ffffff","strokeWidth":1.5},"encoding":{"x":{"datum":0.0201,"type":"quantitative","scale":{"domain":[0.11307,0.88339],"nice":false,"zero":false},"axis":null},"x2":{"datum":0.9816},"y":{"datum":0.9701,"type":"quantitative","scale":{"domain":[0.12598,0.88976],"nice":false,"zero":false},"axis":null}}},
    {"mark":{"type":"rule","color":"#ffffff","strokeWidth":1.5},"encoding":{"x":{"datum":0.0201,"type":"quantitative","scale":{"domain":[0.11307,0.88339],"nice":false,"zero":false},"axis":null},"y":{"datum":0.0299,"type":"quantitative","scale":{"domain":[0.12598,0.88976],"nice":false,"zero":false},"axis":null},"y2":{"datum":0.9701}}},
    {"mark":{"type":"rule","color":"#cccccc","strokeWidth":1.5},"encoding":{"x":{"datum":0.0201,"type":"quantitative","scale":{"domain":[0.11307,0.88339],"nice":false,"zero":false},"axis":null},"x2":{"datum":0.9816},"y":{"datum":0.0299,"type":"quantitative","scale":{"domain":[0.12598,0.88976],"nice":false,"zero":false},"axis":null}}},
    {"mark":{"type":"rule","color":"#cccccc","strokeWidth":1.5},"encoding":{"x":{"datum":0.9816,"type":"quantitative","scale":{"domain":[0.11307,0.88339],"nice":false,"zero":false},"axis":null},"y":{"datum":0.0299,"type":"quantitative","scale":{"domain":[0.12598,0.88976],"nice":false,"zero":false},"axis":null},"y2":{"datum":0.9701}}},
    {"mark":{"type":"rect","fill":"#000000"},"encoding":{"x":{"datum":0.0353,"type":"quantitative","scale":{"domain":[0.11307,0.88339],"nice":false,"zero":false},"axis":null},"x2":{"datum":0.3887},"y":{"datum":0.8858,"type":"quantitative","scale":{"domain":[0.12598,0.88976],"nice":false,"zero":false},"axis":null},"y2":{"datum":0.9528}}},
    {"mark":{"type":"rect","fill":"#f2f2f2","stroke":"#000000","strokeWidth":1},"encoding":{"x":{"datum":0.0283,"type":"quantitative","scale":{"domain":[0.11307,0.88339],"nice":false,"zero":false},"axis":null},"x2":{"datum":0.3816},"y":{"datum":0.9016,"type":"quantitative","scale":{"domain":[0.12598,0.88976],"nice":false,"zero":false},"axis":null},"y2":{"datum":0.9685}}},
    {"mark":{"type":"text","text":"Run 25400, Spigot 14, Channel 10","fontSize":6,"fontWeight":"bold","align":"center","baseline":"middle"},"encoding":{"x":{"datum":0.2049,"type":"quantitative","scale":{"domain":[0.11307,0.88339],"nice":false,"zero":false},"axis":null},"y":{"datum":0.9346,"type":"quantitative","scale":{"domain":[0.12598,0.88976],"nice":false,"zero":false},"axis":null}}},
    {"mark":{"type":"rect","fill":"#000000"},"encoding":{"x":{"datum":0.7739,"type":"quantitative","scale":{"domain":[0.11307,0.88339],"nice":false,"zero":false},"axis":null},"x2":{"datum":0.9788},"y":{"datum":0.6748,"type":"quantitative","scale":{"domain":[0.12598,0.88976],"nice":false,"zero":false},"axis":null},"y2":{"datum":0.9528}}},
    {"mark":{"type":"rect","fill":"#f2f2f2","stroke":"#000000","strokeWidth":1},"encoding":{"x":{"datum":0.7668,"type":"quantitative","scale":{"domain":[0.11307,0.88339],"nice":false,"zero":false},"axis":null},"x2":{"datum":0.9717},"y":{"datum":0.6906,"type":"quantitative","scale":{"domain":[0.12598,0.88976],"nice":false,"zero":false},"axis":null},"y2":{"datum":0.9685}}},
    {"mark":{"type":"rule","color":"#000000","strokeWidth":0.8},"encoding":{"x":{"datum":0.7668,"type":"quantitative","scale":{"domain":[0.11307,0.88339],"nice":false,"zero":false},"axis":null},"x2":{"datum":0.9717},"y":{"datum":0.9315,"type":"quantitative","scale":{"domain":[0.12598,0.88976],"nice":false,"zero":false},"axis":null}}},
    {"mark":{"type":"text","text":"Run25400_Spigot14_Channel10","fontSize":3.5,"fontWeight":"bold","align":"center","baseline":"middle"},"encoding":{"x":{"datum":0.8693,"type":"quantitative","scale":{"domain":[0.11307,0.88339],"nice":false,"zero":false},"axis":null},"y":{"datum":0.9504,"type":"quantitative","scale":{"domain":[0.12598,0.88976],"nice":false,"zero":false},"axis":null}}},
    {"mark":{"type":"text","text":["Entries","Mean","RMS","Underflow","Overflow","Integral"],"fontSize":4.2,"fontWeight":"bold","align":"left","baseline":"middle","lineHeight":4.86},"encoding":{"x":{"datum":0.7756,"type":"quantitative","scale":{"domain":[0.11307,0.88339],"nice":false,"zero":false},"axis":null},"y":{"datum":0.9189,"type":"quantitative","scale":{"domain":[0.12598,0.88976],"nice":false,"zero":false},"axis":null}}},
    {"mark":{"type":"text","text":["3000","405.8","174.1","14.37","0","8852"],"fontSize":4.2,"fontWeight":"bold","align":"right","baseline":"middle","lineHeight":4.86},"encoding":{"x":{"datum":0.9647,"type":"quantitative","scale":{"domain":[0.11307,0.88339],"nice":false,"zero":false},"axis":null},"y":{"datum":0.9189,"type":"quantitative","scale":{"domain":[0.12598,0.88976],"nice":false,"zero":false},"axis":null}}}
   ]}
 ],
 "resolve":{"scale":{"x":"independent","y":"independent"}}},
{"width":218,"height":97,
 "layer":[
  {"data":{"name":"c21"},
   "layer":[
    {"mark":{"type":"line","color":"#ff0000","strokeWidth":1},
     "encoding":{
      "x":{"field":"x","type":"quantitative","scale":{"domain":[100,900],"nice":false,"zero":false},"axis":{"values":[100,200,300,400,500,600,700,800,900],"tickSize":-3,"labelPadding":4.5}},
      "y":{"field":"y","type":"quantitative","scale":{"domain":[14.528,15.295],"nice":false,"zero":false},"axis":{"values":[14.6,14.7,14.8,14.9,15,15.1,15.2],"format":"~g","tickSize":-6,"labelPadding":7.5}}}},
    {"mark":{"type":"line","opacity":0},
     "encoding":{
      "x":{"field":"x","type":"quantitative","scale":{"domain":[100,900],"nice":false,"zero":false},"axis":{"orient":"bottom","tickCount":40,"tickSize":-1.5,"labels":false,"domain":false}},
      "y":{"field":"y","type":"quantitative","scale":{"domain":[14.528,15.295],"nice":false,"zero":false},"axis":{"orient":"left","tickCount":40,"tickSize":-3,"labels":false,"domain":false}}}}
   ],
   "resolve":{"axis":{"x":"independent","y":"independent"}}},
  {"data":{"values":[{}]},
   "layer":[
    {"mark":{"type":"rule","color":"#ffffff","strokeWidth":1.5},"encoding":{"x":{"datum":0.0201,"type":"quantitative","scale":{"domain":[0.11307,0.88339],"nice":false,"zero":false},"axis":null},"x2":{"datum":0.9816},"y":{"datum":0.9701,"type":"quantitative","scale":{"domain":[0.12598,0.88976],"nice":false,"zero":false},"axis":null}}},
    {"mark":{"type":"rule","color":"#ffffff","strokeWidth":1.5},"encoding":{"x":{"datum":0.0201,"type":"quantitative","scale":{"domain":[0.11307,0.88339],"nice":false,"zero":false},"axis":null},"y":{"datum":0.0299,"type":"quantitative","scale":{"domain":[0.12598,0.88976],"nice":false,"zero":false},"axis":null},"y2":{"datum":0.9701}}},
    {"mark":{"type":"rule","color":"#cccccc","strokeWidth":1.5},"encoding":{"x":{"datum":0.0201,"type":"quantitative","scale":{"domain":[0.11307,0.88339],"nice":false,"zero":false},"axis":null},"x2":{"datum":0.9816},"y":{"datum":0.0299,"type":"quantitative","scale":{"domain":[0.12598,0.88976],"nice":false,"zero":false},"axis":null}}},
    {"mark":{"type":"rule","color":"#cccccc","strokeWidth":1.5},"encoding":{"x":{"datum":0.9816,"type":"quantitative","scale":{"domain":[0.11307,0.88339],"nice":false,"zero":false},"axis":null},"y":{"datum":0.0299,"type":"quantitative","scale":{"domain":[0.12598,0.88976],"nice":false,"zero":false},"axis":null},"y2":{"datum":0.9701}}},
    {"mark":{"type":"rect","fill":"#000000"},"encoding":{"x":{"datum":0.0353,"type":"quantitative","scale":{"domain":[0.11307,0.88339],"nice":false,"zero":false},"axis":null},"x2":{"datum":0.3887},"y":{"datum":0.8858,"type":"quantitative","scale":{"domain":[0.12598,0.88976],"nice":false,"zero":false},"axis":null},"y2":{"datum":0.9528}}},
    {"mark":{"type":"rect","fill":"#f2f2f2","stroke":"#000000","strokeWidth":1},"encoding":{"x":{"datum":0.0283,"type":"quantitative","scale":{"domain":[0.11307,0.88339],"nice":false,"zero":false},"axis":null},"x2":{"datum":0.3816},"y":{"datum":0.9016,"type":"quantitative","scale":{"domain":[0.12598,0.88976],"nice":false,"zero":false},"axis":null},"y2":{"datum":0.9685}}},
    {"mark":{"type":"text","text":"Run 25400, Spigot 14, Channel 21","fontSize":6,"fontWeight":"bold","align":"center","baseline":"middle"},"encoding":{"x":{"datum":0.2049,"type":"quantitative","scale":{"domain":[0.11307,0.88339],"nice":false,"zero":false},"axis":null},"y":{"datum":0.9346,"type":"quantitative","scale":{"domain":[0.12598,0.88976],"nice":false,"zero":false},"axis":null}}},
    {"mark":{"type":"rect","fill":"#000000"},"encoding":{"x":{"datum":0.7739,"type":"quantitative","scale":{"domain":[0.11307,0.88339],"nice":false,"zero":false},"axis":null},"x2":{"datum":0.9788},"y":{"datum":0.6748,"type":"quantitative","scale":{"domain":[0.12598,0.88976],"nice":false,"zero":false},"axis":null},"y2":{"datum":0.9528}}},
    {"mark":{"type":"rect","fill":"#f2f2f2","stroke":"#000000","strokeWidth":1},"encoding":{"x":{"datum":0.7668,"type":"quantitative","scale":{"domain":[0.11307,0.88339],"nice":false,"zero":false},"axis":null},"x2":{"datum":0.9717},"y":{"datum":0.6906,"type":"quantitative","scale":{"domain":[0.12598,0.88976],"nice":false,"zero":false},"axis":null},"y2":{"datum":0.9685}}},
    {"mark":{"type":"rule","color":"#000000","strokeWidth":0.8},"encoding":{"x":{"datum":0.7668,"type":"quantitative","scale":{"domain":[0.11307,0.88339],"nice":false,"zero":false},"axis":null},"x2":{"datum":0.9717},"y":{"datum":0.9315,"type":"quantitative","scale":{"domain":[0.12598,0.88976],"nice":false,"zero":false},"axis":null}}},
    {"mark":{"type":"text","text":"Run25400_Spigot14_Channel21","fontSize":3.5,"fontWeight":"bold","align":"center","baseline":"middle"},"encoding":{"x":{"datum":0.8693,"type":"quantitative","scale":{"domain":[0.11307,0.88339],"nice":false,"zero":false},"axis":null},"y":{"datum":0.9504,"type":"quantitative","scale":{"domain":[0.12598,0.88976],"nice":false,"zero":false},"axis":null}}},
    {"mark":{"type":"text","text":["Entries","Mean","RMS","Underflow","Overflow","Integral"],"fontSize":4.2,"fontWeight":"bold","align":"left","baseline":"middle","lineHeight":4.86},"encoding":{"x":{"datum":0.7756,"type":"quantitative","scale":{"domain":[0.11307,0.88339],"nice":false,"zero":false},"axis":null},"y":{"datum":0.9189,"type":"quantitative","scale":{"domain":[0.12598,0.88976],"nice":false,"zero":false},"axis":null}}},
    {"mark":{"type":"text","text":["3000","405.8","174.1","14.59","0","8939"],"fontSize":4.2,"fontWeight":"bold","align":"right","baseline":"middle","lineHeight":4.86},"encoding":{"x":{"datum":0.9647,"type":"quantitative","scale":{"domain":[0.11307,0.88339],"nice":false,"zero":false},"axis":null},"y":{"datum":0.9189,"type":"quantitative","scale":{"domain":[0.12598,0.88976],"nice":false,"zero":false},"axis":null}}}
   ]}
 ],
 "resolve":{"scale":{"x":"independent","y":"independent"}}},
{"width":218,"height":97,
 "layer":[
  {"data":{"name":"c13"},
   "layer":[
    {"mark":{"type":"line","color":"#ff0000","strokeWidth":1},
     "encoding":{
      "x":{"field":"x","type":"quantitative","scale":{"domain":[100,900],"nice":false,"zero":false},"axis":{"values":[100,200,300,400,500,600,700,800,900],"tickSize":-3,"labelPadding":4.5}},
      "y":{"field":"y","type":"quantitative","scale":{"domain":[13.804,14.643],"nice":false,"zero":false},"axis":{"values":[13.9,14,14.1,14.2,14.3,14.4,14.5,14.6],"format":"~g","tickSize":-6,"labelPadding":7.5}}}},
    {"mark":{"type":"line","opacity":0},
     "encoding":{
      "x":{"field":"x","type":"quantitative","scale":{"domain":[100,900],"nice":false,"zero":false},"axis":{"orient":"bottom","tickCount":40,"tickSize":-1.5,"labels":false,"domain":false}},
      "y":{"field":"y","type":"quantitative","scale":{"domain":[13.804,14.643],"nice":false,"zero":false},"axis":{"orient":"left","tickCount":40,"tickSize":-3,"labels":false,"domain":false}}}}
   ],
   "resolve":{"axis":{"x":"independent","y":"independent"}}},
  {"data":{"values":[{}]},
   "layer":[
    {"mark":{"type":"rule","color":"#ffffff","strokeWidth":1.5},"encoding":{"x":{"datum":0.0201,"type":"quantitative","scale":{"domain":[0.11307,0.88339],"nice":false,"zero":false},"axis":null},"x2":{"datum":0.9816},"y":{"datum":0.9701,"type":"quantitative","scale":{"domain":[0.12598,0.88976],"nice":false,"zero":false},"axis":null}}},
    {"mark":{"type":"rule","color":"#ffffff","strokeWidth":1.5},"encoding":{"x":{"datum":0.0201,"type":"quantitative","scale":{"domain":[0.11307,0.88339],"nice":false,"zero":false},"axis":null},"y":{"datum":0.0299,"type":"quantitative","scale":{"domain":[0.12598,0.88976],"nice":false,"zero":false},"axis":null},"y2":{"datum":0.9701}}},
    {"mark":{"type":"rule","color":"#cccccc","strokeWidth":1.5},"encoding":{"x":{"datum":0.0201,"type":"quantitative","scale":{"domain":[0.11307,0.88339],"nice":false,"zero":false},"axis":null},"x2":{"datum":0.9816},"y":{"datum":0.0299,"type":"quantitative","scale":{"domain":[0.12598,0.88976],"nice":false,"zero":false},"axis":null}}},
    {"mark":{"type":"rule","color":"#cccccc","strokeWidth":1.5},"encoding":{"x":{"datum":0.9816,"type":"quantitative","scale":{"domain":[0.11307,0.88339],"nice":false,"zero":false},"axis":null},"y":{"datum":0.0299,"type":"quantitative","scale":{"domain":[0.12598,0.88976],"nice":false,"zero":false},"axis":null},"y2":{"datum":0.9701}}},
    {"mark":{"type":"rect","fill":"#000000"},"encoding":{"x":{"datum":0.0353,"type":"quantitative","scale":{"domain":[0.11307,0.88339],"nice":false,"zero":false},"axis":null},"x2":{"datum":0.3887},"y":{"datum":0.8858,"type":"quantitative","scale":{"domain":[0.12598,0.88976],"nice":false,"zero":false},"axis":null},"y2":{"datum":0.9528}}},
    {"mark":{"type":"rect","fill":"#f2f2f2","stroke":"#000000","strokeWidth":1},"encoding":{"x":{"datum":0.0283,"type":"quantitative","scale":{"domain":[0.11307,0.88339],"nice":false,"zero":false},"axis":null},"x2":{"datum":0.3816},"y":{"datum":0.9016,"type":"quantitative","scale":{"domain":[0.12598,0.88976],"nice":false,"zero":false},"axis":null},"y2":{"datum":0.9685}}},
    {"mark":{"type":"text","text":"Run 25400, Spigot 14, Channel 13","fontSize":6,"fontWeight":"bold","align":"center","baseline":"middle"},"encoding":{"x":{"datum":0.2049,"type":"quantitative","scale":{"domain":[0.11307,0.88339],"nice":false,"zero":false},"axis":null},"y":{"datum":0.9346,"type":"quantitative","scale":{"domain":[0.12598,0.88976],"nice":false,"zero":false},"axis":null}}},
    {"mark":{"type":"rect","fill":"#000000"},"encoding":{"x":{"datum":0.7739,"type":"quantitative","scale":{"domain":[0.11307,0.88339],"nice":false,"zero":false},"axis":null},"x2":{"datum":0.9788},"y":{"datum":0.6748,"type":"quantitative","scale":{"domain":[0.12598,0.88976],"nice":false,"zero":false},"axis":null},"y2":{"datum":0.9528}}},
    {"mark":{"type":"rect","fill":"#f2f2f2","stroke":"#000000","strokeWidth":1},"encoding":{"x":{"datum":0.7668,"type":"quantitative","scale":{"domain":[0.11307,0.88339],"nice":false,"zero":false},"axis":null},"x2":{"datum":0.9717},"y":{"datum":0.6906,"type":"quantitative","scale":{"domain":[0.12598,0.88976],"nice":false,"zero":false},"axis":null},"y2":{"datum":0.9685}}},
    {"mark":{"type":"rule","color":"#000000","strokeWidth":0.8},"encoding":{"x":{"datum":0.7668,"type":"quantitative","scale":{"domain":[0.11307,0.88339],"nice":false,"zero":false},"axis":null},"x2":{"datum":0.9717},"y":{"datum":0.9315,"type":"quantitative","scale":{"domain":[0.12598,0.88976],"nice":false,"zero":false},"axis":null}}},
    {"mark":{"type":"text","text":"Run25400_Spigot14_Channel13","fontSize":3.5,"fontWeight":"bold","align":"center","baseline":"middle"},"encoding":{"x":{"datum":0.8693,"type":"quantitative","scale":{"domain":[0.11307,0.88339],"nice":false,"zero":false},"axis":null},"y":{"datum":0.9504,"type":"quantitative","scale":{"domain":[0.12598,0.88976],"nice":false,"zero":false},"axis":null}}},
    {"mark":{"type":"text","text":["Entries","Mean","RMS","Underflow","Overflow","Integral"],"fontSize":4.2,"fontWeight":"bold","align":"left","baseline":"middle","lineHeight":4.86},"encoding":{"x":{"datum":0.7756,"type":"quantitative","scale":{"domain":[0.11307,0.88339],"nice":false,"zero":false},"axis":null},"y":{"datum":0.9189,"type":"quantitative","scale":{"domain":[0.12598,0.88976],"nice":false,"zero":false},"axis":null}}},
    {"mark":{"type":"text","text":["3000","410.1","174.3","13.88","0","8396"],"fontSize":4.2,"fontWeight":"bold","align":"right","baseline":"middle","lineHeight":4.86},"encoding":{"x":{"datum":0.9647,"type":"quantitative","scale":{"domain":[0.11307,0.88339],"nice":false,"zero":false},"axis":null},"y":{"datum":0.9189,"type":"quantitative","scale":{"domain":[0.12598,0.88976],"nice":false,"zero":false},"axis":null}}}
   ]}
 ],
 "resolve":{"scale":{"x":"independent","y":"independent"}}},
{"width":218,"height":97,
 "layer":[
  {"data":{"name":"c17"},
   "layer":[
    {"mark":{"type":"line","color":"#ff0000","strokeWidth":1},
     "encoding":{
      "x":{"field":"x","type":"quantitative","scale":{"domain":[100,900],"nice":false,"zero":false},"axis":{"values":[100,200,300,400,500,600,700,800,900],"tickSize":-3,"labelPadding":4.5}},
      "y":{"field":"y","type":"quantitative","scale":{"domain":[15.317,16.045],"nice":false,"zero":false},"axis":{"values":[15.4,15.5,15.6,15.7,15.8,15.9,16],"format":"~g","tickSize":-6,"labelPadding":7.5}}}},
    {"mark":{"type":"line","opacity":0},
     "encoding":{
      "x":{"field":"x","type":"quantitative","scale":{"domain":[100,900],"nice":false,"zero":false},"axis":{"orient":"bottom","tickCount":40,"tickSize":-1.5,"labels":false,"domain":false}},
      "y":{"field":"y","type":"quantitative","scale":{"domain":[15.317,16.045],"nice":false,"zero":false},"axis":{"orient":"left","tickCount":40,"tickSize":-3,"labels":false,"domain":false}}}}
   ],
   "resolve":{"axis":{"x":"independent","y":"independent"}}},
  {"data":{"values":[{}]},
   "layer":[
    {"mark":{"type":"rule","color":"#ffffff","strokeWidth":1.5},"encoding":{"x":{"datum":0.0201,"type":"quantitative","scale":{"domain":[0.11307,0.88339],"nice":false,"zero":false},"axis":null},"x2":{"datum":0.9816},"y":{"datum":0.9701,"type":"quantitative","scale":{"domain":[0.12598,0.88976],"nice":false,"zero":false},"axis":null}}},
    {"mark":{"type":"rule","color":"#ffffff","strokeWidth":1.5},"encoding":{"x":{"datum":0.0201,"type":"quantitative","scale":{"domain":[0.11307,0.88339],"nice":false,"zero":false},"axis":null},"y":{"datum":0.0299,"type":"quantitative","scale":{"domain":[0.12598,0.88976],"nice":false,"zero":false},"axis":null},"y2":{"datum":0.9701}}},
    {"mark":{"type":"rule","color":"#cccccc","strokeWidth":1.5},"encoding":{"x":{"datum":0.0201,"type":"quantitative","scale":{"domain":[0.11307,0.88339],"nice":false,"zero":false},"axis":null},"x2":{"datum":0.9816},"y":{"datum":0.0299,"type":"quantitative","scale":{"domain":[0.12598,0.88976],"nice":false,"zero":false},"axis":null}}},
    {"mark":{"type":"rule","color":"#cccccc","strokeWidth":1.5},"encoding":{"x":{"datum":0.9816,"type":"quantitative","scale":{"domain":[0.11307,0.88339],"nice":false,"zero":false},"axis":null},"y":{"datum":0.0299,"type":"quantitative","scale":{"domain":[0.12598,0.88976],"nice":false,"zero":false},"axis":null},"y2":{"datum":0.9701}}},
    {"mark":{"type":"rect","fill":"#000000"},"encoding":{"x":{"datum":0.0353,"type":"quantitative","scale":{"domain":[0.11307,0.88339],"nice":false,"zero":false},"axis":null},"x2":{"datum":0.3887},"y":{"datum":0.8858,"type":"quantitative","scale":{"domain":[0.12598,0.88976],"nice":false,"zero":false},"axis":null},"y2":{"datum":0.9528}}},
    {"mark":{"type":"rect","fill":"#f2f2f2","stroke":"#000000","strokeWidth":1},"encoding":{"x":{"datum":0.0283,"type":"quantitative","scale":{"domain":[0.11307,0.88339],"nice":false,"zero":false},"axis":null},"x2":{"datum":0.3816},"y":{"datum":0.9016,"type":"quantitative","scale":{"domain":[0.12598,0.88976],"nice":false,"zero":false},"axis":null},"y2":{"datum":0.9685}}},
    {"mark":{"type":"text","text":"Run 25400, Spigot 14, Channel 17","fontSize":6,"fontWeight":"bold","align":"center","baseline":"middle"},"encoding":{"x":{"datum":0.2049,"type":"quantitative","scale":{"domain":[0.11307,0.88339],"nice":false,"zero":false},"axis":null},"y":{"datum":0.9346,"type":"quantitative","scale":{"domain":[0.12598,0.88976],"nice":false,"zero":false},"axis":null}}},
    {"mark":{"type":"rect","fill":"#000000"},"encoding":{"x":{"datum":0.7739,"type":"quantitative","scale":{"domain":[0.11307,0.88339],"nice":false,"zero":false},"axis":null},"x2":{"datum":0.9788},"y":{"datum":0.6748,"type":"quantitative","scale":{"domain":[0.12598,0.88976],"nice":false,"zero":false},"axis":null},"y2":{"datum":0.9528}}},
    {"mark":{"type":"rect","fill":"#f2f2f2","stroke":"#000000","strokeWidth":1},"encoding":{"x":{"datum":0.7668,"type":"quantitative","scale":{"domain":[0.11307,0.88339],"nice":false,"zero":false},"axis":null},"x2":{"datum":0.9717},"y":{"datum":0.6906,"type":"quantitative","scale":{"domain":[0.12598,0.88976],"nice":false,"zero":false},"axis":null},"y2":{"datum":0.9685}}},
    {"mark":{"type":"rule","color":"#000000","strokeWidth":0.8},"encoding":{"x":{"datum":0.7668,"type":"quantitative","scale":{"domain":[0.11307,0.88339],"nice":false,"zero":false},"axis":null},"x2":{"datum":0.9717},"y":{"datum":0.9315,"type":"quantitative","scale":{"domain":[0.12598,0.88976],"nice":false,"zero":false},"axis":null}}},
    {"mark":{"type":"text","text":"Run25400_Spigot14_Channel17","fontSize":3.5,"fontWeight":"bold","align":"center","baseline":"middle"},"encoding":{"x":{"datum":0.8693,"type":"quantitative","scale":{"domain":[0.11307,0.88339],"nice":false,"zero":false},"axis":null},"y":{"datum":0.9504,"type":"quantitative","scale":{"domain":[0.12598,0.88976],"nice":false,"zero":false},"axis":null}}},
    {"mark":{"type":"text","text":["Entries","Mean","RMS","Underflow","Overflow","Integral"],"fontSize":4.2,"fontWeight":"bold","align":"left","baseline":"middle","lineHeight":4.86},"encoding":{"x":{"datum":0.7756,"type":"quantitative","scale":{"domain":[0.11307,0.88339],"nice":false,"zero":false},"axis":null},"y":{"datum":0.9189,"type":"quantitative","scale":{"domain":[0.12598,0.88976],"nice":false,"zero":false},"axis":null}}},
    {"mark":{"type":"text","text":["3000","410.1","174.3","15.37","0","9365"],"fontSize":4.2,"fontWeight":"bold","align":"right","baseline":"middle","lineHeight":4.86},"encoding":{"x":{"datum":0.9647,"type":"quantitative","scale":{"domain":[0.11307,0.88339],"nice":false,"zero":false},"axis":null},"y":{"datum":0.9189,"type":"quantitative","scale":{"domain":[0.12598,0.88976],"nice":false,"zero":false},"axis":null}}}
   ]}
 ],
 "resolve":{"scale":{"x":"independent","y":"independent"}}},
{"width":218,"height":97,
 "layer":[
  {"data":{"name":"c11"},
   "layer":[
    {"mark":{"type":"line","color":"#ff0000","strokeWidth":1},
     "encoding":{
      "x":{"field":"x","type":"quantitative","scale":{"domain":[100,900],"nice":false,"zero":false},"axis":{"values":[100,200,300,400,500,600,700,800,900],"tickSize":-3,"labelPadding":4.5}},
      "y":{"field":"y","type":"quantitative","scale":{"domain":[16.158,16.842],"nice":false,"zero":false},"axis":{"values":[16.2,16.3,16.4,16.5,16.6,16.7,16.8],"format":"~g","tickSize":-6,"labelPadding":7.5}}}},
    {"mark":{"type":"line","opacity":0},
     "encoding":{
      "x":{"field":"x","type":"quantitative","scale":{"domain":[100,900],"nice":false,"zero":false},"axis":{"orient":"bottom","tickCount":40,"tickSize":-1.5,"labels":false,"domain":false}},
      "y":{"field":"y","type":"quantitative","scale":{"domain":[16.158,16.842],"nice":false,"zero":false},"axis":{"orient":"left","tickCount":40,"tickSize":-3,"labels":false,"domain":false}}}}
   ],
   "resolve":{"axis":{"x":"independent","y":"independent"}}},
  {"data":{"values":[{}]},
   "layer":[
    {"mark":{"type":"rule","color":"#ffffff","strokeWidth":1.5},"encoding":{"x":{"datum":0.0201,"type":"quantitative","scale":{"domain":[0.11307,0.88339],"nice":false,"zero":false},"axis":null},"x2":{"datum":0.9816},"y":{"datum":0.9701,"type":"quantitative","scale":{"domain":[0.12598,0.88976],"nice":false,"zero":false},"axis":null}}},
    {"mark":{"type":"rule","color":"#ffffff","strokeWidth":1.5},"encoding":{"x":{"datum":0.0201,"type":"quantitative","scale":{"domain":[0.11307,0.88339],"nice":false,"zero":false},"axis":null},"y":{"datum":0.0299,"type":"quantitative","scale":{"domain":[0.12598,0.88976],"nice":false,"zero":false},"axis":null},"y2":{"datum":0.9701}}},
    {"mark":{"type":"rule","color":"#cccccc","strokeWidth":1.5},"encoding":{"x":{"datum":0.0201,"type":"quantitative","scale":{"domain":[0.11307,0.88339],"nice":false,"zero":false},"axis":null},"x2":{"datum":0.9816},"y":{"datum":0.0299,"type":"quantitative","scale":{"domain":[0.12598,0.88976],"nice":false,"zero":false},"axis":null}}},
    {"mark":{"type":"rule","color":"#cccccc","strokeWidth":1.5},"encoding":{"x":{"datum":0.9816,"type":"quantitative","scale":{"domain":[0.11307,0.88339],"nice":false,"zero":false},"axis":null},"y":{"datum":0.0299,"type":"quantitative","scale":{"domain":[0.12598,0.88976],"nice":false,"zero":false},"axis":null},"y2":{"datum":0.9701}}},
    {"mark":{"type":"rect","fill":"#000000"},"encoding":{"x":{"datum":0.0353,"type":"quantitative","scale":{"domain":[0.11307,0.88339],"nice":false,"zero":false},"axis":null},"x2":{"datum":0.3887},"y":{"datum":0.8858,"type":"quantitative","scale":{"domain":[0.12598,0.88976],"nice":false,"zero":false},"axis":null},"y2":{"datum":0.9528}}},
    {"mark":{"type":"rect","fill":"#f2f2f2","stroke":"#000000","strokeWidth":1},"encoding":{"x":{"datum":0.0283,"type":"quantitative","scale":{"domain":[0.11307,0.88339],"nice":false,"zero":false},"axis":null},"x2":{"datum":0.3816},"y":{"datum":0.9016,"type":"quantitative","scale":{"domain":[0.12598,0.88976],"nice":false,"zero":false},"axis":null},"y2":{"datum":0.9685}}},
    {"mark":{"type":"text","text":"Run 25400, Spigot 14, Channel 11","fontSize":6,"fontWeight":"bold","align":"center","baseline":"middle"},"encoding":{"x":{"datum":0.2049,"type":"quantitative","scale":{"domain":[0.11307,0.88339],"nice":false,"zero":false},"axis":null},"y":{"datum":0.9346,"type":"quantitative","scale":{"domain":[0.12598,0.88976],"nice":false,"zero":false},"axis":null}}},
    {"mark":{"type":"rect","fill":"#000000"},"encoding":{"x":{"datum":0.7739,"type":"quantitative","scale":{"domain":[0.11307,0.88339],"nice":false,"zero":false},"axis":null},"x2":{"datum":0.9788},"y":{"datum":0.6748,"type":"quantitative","scale":{"domain":[0.12598,0.88976],"nice":false,"zero":false},"axis":null},"y2":{"datum":0.9528}}},
    {"mark":{"type":"rect","fill":"#f2f2f2","stroke":"#000000","strokeWidth":1},"encoding":{"x":{"datum":0.7668,"type":"quantitative","scale":{"domain":[0.11307,0.88339],"nice":false,"zero":false},"axis":null},"x2":{"datum":0.9717},"y":{"datum":0.6906,"type":"quantitative","scale":{"domain":[0.12598,0.88976],"nice":false,"zero":false},"axis":null},"y2":{"datum":0.9685}}},
    {"mark":{"type":"rule","color":"#000000","strokeWidth":0.8},"encoding":{"x":{"datum":0.7668,"type":"quantitative","scale":{"domain":[0.11307,0.88339],"nice":false,"zero":false},"axis":null},"x2":{"datum":0.9717},"y":{"datum":0.9315,"type":"quantitative","scale":{"domain":[0.12598,0.88976],"nice":false,"zero":false},"axis":null}}},
    {"mark":{"type":"text","text":"Run25400_Spigot14_Channel11","fontSize":3.5,"fontWeight":"bold","align":"center","baseline":"middle"},"encoding":{"x":{"datum":0.8693,"type":"quantitative","scale":{"domain":[0.11307,0.88339],"nice":false,"zero":false},"axis":null},"y":{"datum":0.9504,"type":"quantitative","scale":{"domain":[0.12598,0.88976],"nice":false,"zero":false},"axis":null}}},
    {"mark":{"type":"text","text":["Entries","Mean","RMS","Underflow","Overflow","Integral"],"fontSize":4.2,"fontWeight":"bold","align":"left","baseline":"middle","lineHeight":4.86},"encoding":{"x":{"datum":0.7756,"type":"quantitative","scale":{"domain":[0.11307,0.88339],"nice":false,"zero":false},"axis":null},"y":{"datum":0.9189,"type":"quantitative","scale":{"domain":[0.12598,0.88976],"nice":false,"zero":false},"axis":null}}},
    {"mark":{"type":"text","text":["3000","405.8","174.1","16.21","0","9881"],"fontSize":4.2,"fontWeight":"bold","align":"right","baseline":"middle","lineHeight":4.86},"encoding":{"x":{"datum":0.9647,"type":"quantitative","scale":{"domain":[0.11307,0.88339],"nice":false,"zero":false},"axis":null},"y":{"datum":0.9189,"type":"quantitative","scale":{"domain":[0.12598,0.88976],"nice":false,"zero":false},"axis":null}}}
   ]}
 ],
 "resolve":{"scale":{"x":"independent","y":"independent"}}},
{"width":218,"height":97,
 "view":{"stroke":null},
 "data":{"values":[{}]},
 "layer":[
  {"mark":{"type":"rect","fill":"transparent"},"encoding":{"x":{"datum":0,"type":"quantitative","scale":{"domain":[0.11307,0.88339],"nice":false,"zero":false},"axis":null},"x2":{"datum":1},"y":{"datum":0,"type":"quantitative","scale":{"domain":[0.12598,0.88976],"nice":false,"zero":false},"axis":null},"y2":{"datum":1}}},
  {"mark":{"type":"rule","color":"#ffffff","strokeWidth":1.5},"encoding":{"x":{"datum":0.0201,"type":"quantitative","scale":{"domain":[0.11307,0.88339],"nice":false,"zero":false},"axis":null},"x2":{"datum":0.9816},"y":{"datum":0.9701,"type":"quantitative","scale":{"domain":[0.12598,0.88976],"nice":false,"zero":false},"axis":null}}},
  {"mark":{"type":"rule","color":"#ffffff","strokeWidth":1.5},"encoding":{"x":{"datum":0.0201,"type":"quantitative","scale":{"domain":[0.11307,0.88339],"nice":false,"zero":false},"axis":null},"y":{"datum":0.0299,"type":"quantitative","scale":{"domain":[0.12598,0.88976],"nice":false,"zero":false},"axis":null},"y2":{"datum":0.9701}}},
  {"mark":{"type":"rule","color":"#cccccc","strokeWidth":1.5},"encoding":{"x":{"datum":0.0201,"type":"quantitative","scale":{"domain":[0.11307,0.88339],"nice":false,"zero":false},"axis":null},"x2":{"datum":0.9816},"y":{"datum":0.0299,"type":"quantitative","scale":{"domain":[0.12598,0.88976],"nice":false,"zero":false},"axis":null}}},
  {"mark":{"type":"rule","color":"#cccccc","strokeWidth":1.5},"encoding":{"x":{"datum":0.9816,"type":"quantitative","scale":{"domain":[0.11307,0.88339],"nice":false,"zero":false},"axis":null},"y":{"datum":0.0299,"type":"quantitative","scale":{"domain":[0.12598,0.88976],"nice":false,"zero":false},"axis":null},"y2":{"datum":0.9701}}}
 ]}
]
}
